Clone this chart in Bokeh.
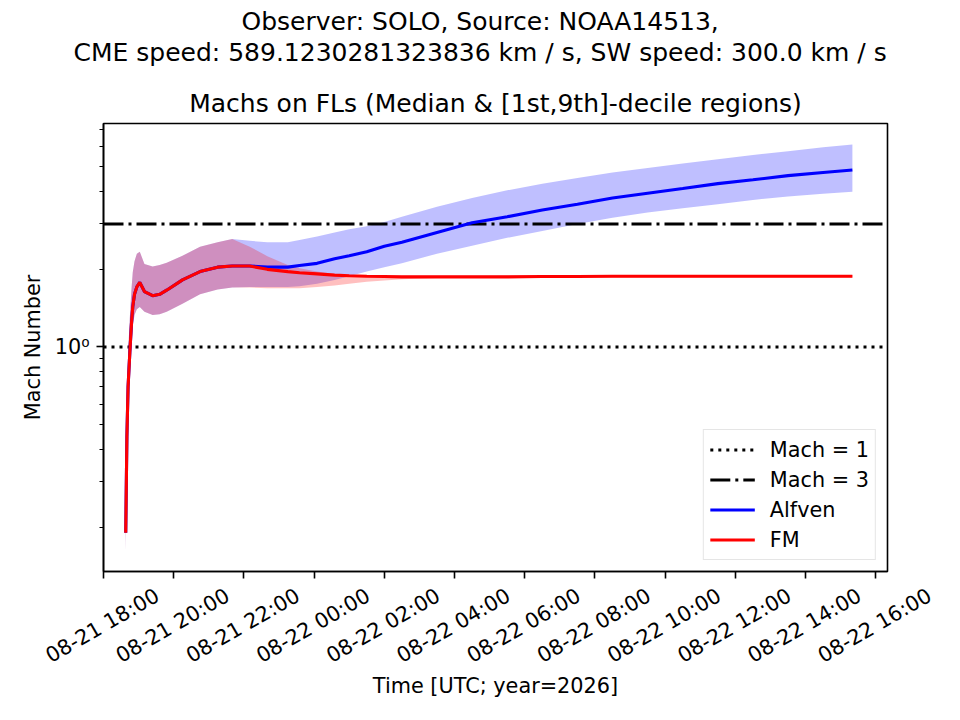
import math
import pandas as pd
from bokeh.plotting import figure
from bokeh.layouts import column
from bokeh.core.properties import value
from bokeh.models import Title, FixedTicker, Range1d, Legend, LegendItem
from bokeh.embed import file_html
from bokeh.resources import INLINE

# ---------------- data ----------------
times = [
    "2026-08-21 18:38", "2026-08-21 18:40", "2026-08-21 18:42", "2026-08-21 18:45",
    "2026-08-21 18:48", "2026-08-21 18:50", "2026-08-21 18:53", "2026-08-21 18:57",
    "2026-08-21 19:02", "2026-08-21 19:10", "2026-08-21 19:24", "2026-08-21 19:36",
    "2026-08-21 19:48", "2026-08-21 20:15", "2026-08-21 20:45", "2026-08-21 21:15",
    "2026-08-21 21:40", "2026-08-21 22:10", "2026-08-21 22:40", "2026-08-21 23:15",
    "2026-08-21 23:35", "2026-08-22 00:05", "2026-08-22 00:35", "2026-08-22 01:00",
    "2026-08-22 01:30", "2026-08-22 02:00", "2026-08-22 02:30", "2026-08-22 03:30",
    "2026-08-22 04:30", "2026-08-22 05:30", "2026-08-22 06:30", "2026-08-22 07:30",
    "2026-08-22 08:30", "2026-08-22 09:30", "2026-08-22 10:30", "2026-08-22 11:30",
    "2026-08-22 12:30", "2026-08-22 13:30", "2026-08-22 14:30", "2026-08-22 15:20",
]

alfven_med = [0.19, 0.45, 0.70, 0.95, 1.25, 1.43, 1.60, 1.71, 1.78, 1.64, 1.58, 1.60,
              1.66, 1.82, 1.96, 2.04, 2.06, 2.06, 2.04, 2.04, 2.07, 2.11, 2.20, 2.26,
              2.34, 2.46, 2.55, 2.78, 3.03, 3.20, 3.40, 3.58, 3.78, 3.95, 4.12, 4.30,
              4.45, 4.62, 4.75, 4.86]
alfven_hi = [0.21, 0.60, 0.95, 1.30, 1.70, 1.95, 2.15, 2.30, 2.34, 2.10, 2.05, 2.08,
             2.12, 2.26, 2.45, 2.55, 2.62, 2.58, 2.55, 2.55, 2.60, 2.68, 2.78, 2.86,
             2.94, 3.05, 3.20, 3.50, 3.78, 4.05, 4.30, 4.52, 4.75, 4.95, 5.15, 5.35,
             5.55, 5.75, 5.95, 6.10]
alfven_lo = [0.16, 0.35, 0.55, 0.80, 1.05, 1.20, 1.33, 1.40, 1.43, 1.37, 1.33, 1.34,
             1.37, 1.47, 1.60, 1.67, 1.70, 1.71, 1.71, 1.71, 1.72, 1.76, 1.82, 1.88,
             1.96, 2.04, 2.11, 2.30, 2.47, 2.65, 2.82, 3.00, 3.17, 3.32, 3.45, 3.58,
             3.72, 3.83, 3.93, 4.00]

fm_med = [0.19, 0.45, 0.70, 0.95, 1.25, 1.43, 1.60, 1.71, 1.78, 1.64, 1.58, 1.60,
          1.66, 1.82, 1.96, 2.04, 2.06, 2.06, 2.00, 1.96, 1.94, 1.92, 1.90, 1.89,
          1.88, 1.875, 1.87, 1.87, 1.87, 1.87, 1.875, 1.875, 1.88, 1.88, 1.88, 1.88,
          1.88, 1.88, 1.88, 1.88]
fm_hi = [0.21, 0.60, 0.95, 1.30, 1.70, 1.95, 2.15, 2.30, 2.34, 2.10, 2.05, 2.08,
         2.12, 2.26, 2.45, 2.55, 2.62, 2.45, 2.25, 2.08, 2.02, 1.96, 1.92, 1.90,
         1.89, 1.89, 1.89, 1.89, 1.89, 1.895, 1.895, 1.90, 1.90, 1.90, 1.90, 1.90,
         1.90, 1.90, 1.90, 1.90]
fm_lo = [0.16, 0.35, 0.55, 0.80, 1.05, 1.20, 1.33, 1.40, 1.43, 1.37, 1.33, 1.34,
         1.37, 1.47, 1.60, 1.67, 1.70, 1.70, 1.69, 1.69, 1.69, 1.71, 1.73, 1.76,
         1.79, 1.81, 1.83, 1.85, 1.855, 1.855, 1.86, 1.86, 1.86, 1.86, 1.86, 1.86,
         1.86, 1.86, 1.86, 1.86]

mach_levels = [1, 3]
mach_labels = ["Mach = 1", "Mach = 3"]

tick_times = ["2026-08-21 18:00", "2026-08-21 20:00", "2026-08-21 22:00",
              "2026-08-22 00:00", "2026-08-22 02:00", "2026-08-22 04:00",
              "2026-08-22 06:00", "2026-08-22 08:00", "2026-08-22 10:00",
              "2026-08-22 12:00", "2026-08-22 14:00", "2026-08-22 16:00"]

x_limits = ["2026-08-21 18:00", "2026-08-22 16:20"]
y_limits = [0.1345, 7.36]

title_line1 = "Observer: SOLO, Source: NOAA14513,"
title_line2 = "CME speed: 589.1230281323836 km / s, SW speed: 300.0 km / s"
subtitle = "Machs on FLs (Median & [1st,9th]-decile regions)"
x_label = "Time [UTC; year=2026]"
y_label = "Mach Number"

# ---------------- figure ----------------
FONT = "DejaVu Sans"
BIG = "25px"
MED = "20.8px"
LEFT, RIGHT, FRAME_W = 103, 60, 784
t = pd.to_datetime(times)
xr = pd.to_datetime(x_limits)
x_range = Range1d(xr[0], xr[1])

p = figure(x_axis_type="datetime", y_axis_type="log",
           x_range=x_range, y_range=Range1d(y_limits[0], y_limits[1]),
           frame_width=FRAME_W, frame_height=448,
           min_border_left=LEFT, min_border_right=RIGHT, min_border_top=123,
           min_border_bottom=12,
           output_backend="svg", toolbar_location=None)

# titles (first added = closest to the frame)
p.add_layout(Title(text=subtitle, align="center", text_font=FONT, text_font_size=BIG,
                   text_font_style="normal", text_color="black", standoff=12), "above")
p.add_layout(Title(text=" ", align="center", text_font=FONT, text_font_size="1px",
                   standoff=11), "above")
p.add_layout(Title(text=title_line2, align="left", offset=-30, text_font=FONT,
                   text_font_size=BIG, text_font_style="normal", text_color="black",
                   standoff=0), "above")
p.add_layout(Title(text=title_line1, align="left", offset=138, text_font=FONT,
                   text_font_size=BIG, text_font_style="normal", text_color="black",
                   standoff=0), "above")

p.grid.visible = False
p.outline_line_color = "black"
p.outline_line_width = 1.6
p.background_fill_color = "white"
p.border_fill_color = "white"

# bands
p.varea(x=t, y1=alfven_lo, y2=alfven_hi, fill_color="blue", fill_alpha=0.25)
p.varea(x=t, y1=fm_lo, y2=fm_hi, fill_color="red", fill_alpha=0.25)

# mach reference lines across the axis
r_m1 = p.line(x=list(xr), y=[mach_levels[0]] * 2, line_color="black", line_width=3.1,
              line_dash="3 5")
r_m3 = p.line(x=list(xr), y=[mach_levels[1]] * 2, line_color="black", line_width=3.1,
              line_dash="20 5 3 5")

r_a = p.line(x=t, y=alfven_med, line_color="blue", line_width=3.1)
r_f = p.line(x=t, y=fm_med, line_color="red", line_width=3.1)

legend = Legend(items=[LegendItem(label=mach_labels[0], renderers=[r_m1]),
                       LegendItem(label=mach_labels[1], renderers=[r_m3]),
                       LegendItem(label="Alfven", renderers=[r_a]),
                       LegendItem(label="FM", renderers=[r_f])],
                location="bottom_right", glyph_width=45, glyph_height=27,
                label_standoff=15, spacing=3, padding=6, margin=11,
                label_text_font=FONT, label_text_font_size=MED, label_text_color="black",
                label_height=27,
                border_line_color="#cccccc", border_line_width=1.3,
                background_fill_color="white", background_fill_alpha=0.8)
p.add_layout(legend)

# x axis: ticks only (labels drawn centred under the ticks in the strip below)
tick_ts = pd.to_datetime(tick_times)
tick_ms = [ts.value / 1e6 for ts in tick_ts]
p.xaxis.ticker = FixedTicker(ticks=tick_ms)
p.xaxis.major_label_overrides = {ms: "" for ms in tick_ms}
p.xaxis.major_label_text_font_size = "1px"
p.xaxis.major_label_standoff = 0
p.xaxis.minor_tick_line_color = None

# y axis
minor = [m / 10 for m in range(2, 10)] + [float(m) for m in range(2, 8)]
p.yaxis.ticker = FixedTicker(ticks=[1], minor_ticks=minor)
p.yaxis.major_label_overrides = {1: "10⁰"}
p.yaxis.axis_label = y_label
p.yaxis.major_label_text_font = FONT
p.yaxis.major_label_text_font_size = MED
p.yaxis.major_label_text_color = "black"
p.yaxis.axis_label_text_font = FONT
p.yaxis.axis_label_text_font_size = MED
p.yaxis.axis_label_text_font_style = "normal"
p.yaxis.axis_label_text_color = "black"
p.yaxis.minor_tick_line_color = "black"
p.yaxis.major_label_standoff = 7
p.yaxis.axis_label_standoff = 7

for ax in (p.xaxis[0], p.yaxis[0]):
    ax.axis_line_color = "black"
    ax.axis_line_width = 1.6
    ax.major_tick_line_color = "black"
    ax.major_tick_line_width = 1.6
    ax.major_tick_in = 0
    ax.major_tick_out = 7
    ax.minor_tick_in = 0
    ax.minor_tick_out = 4
    ax.minor_tick_line_width = 1.2

# strip below the axes: tick labels (rotated 30 deg, centred on ticks) and x label.
# Its frame spans the full width, so its x range is the main range widened by the borders.
STRIP_H = 128
ms_per_px = (xr[1] - xr[0]) / FRAME_W
strip_range = Range1d(xr[0] - LEFT * ms_per_px, xr[1] + RIGHT * ms_per_px)
q = figure(x_range=strip_range, y_range=Range1d(0, STRIP_H),
           frame_width=LEFT + FRAME_W + RIGHT, frame_height=STRIP_H,
           min_border_left=0, min_border_right=0, min_border_top=0,
           min_border_bottom=0, output_backend="svg", toolbar_location=None)
q.axis.visible = False
q.grid.visible = False
q.outline_line_color = None
q.border_fill_color = "white"
q.background_fill_color = "white"

# do not align the strip's frame with the main frame
for fig in (p, q):
    try:
        fig.frame_align = False
    except Exception:
        pass

q.text(x=tick_ms, y=[STRIP_H - 42] * len(tick_ms),
       text=[ts.strftime("%m-%d %H:%M") for ts in tick_ts],
       angle=math.pi / 6, text_align="center", text_baseline="middle",
       text_font=value(FONT), text_font_size=value(MED), text_color="black", x_offset=-1)
x_mid = xr[0] + (xr[1] - xr[0]) / 2
q.text(x=[x_mid], y=[STRIP_H - 102], text=[x_label], text_align="center",
       text_baseline="middle", text_font=value(FONT), text_font_size=value(MED),
       text_color="black")

layout = column(p, q, spacing=0)
open("out.html", "w").write(file_html(layout, INLINE))
